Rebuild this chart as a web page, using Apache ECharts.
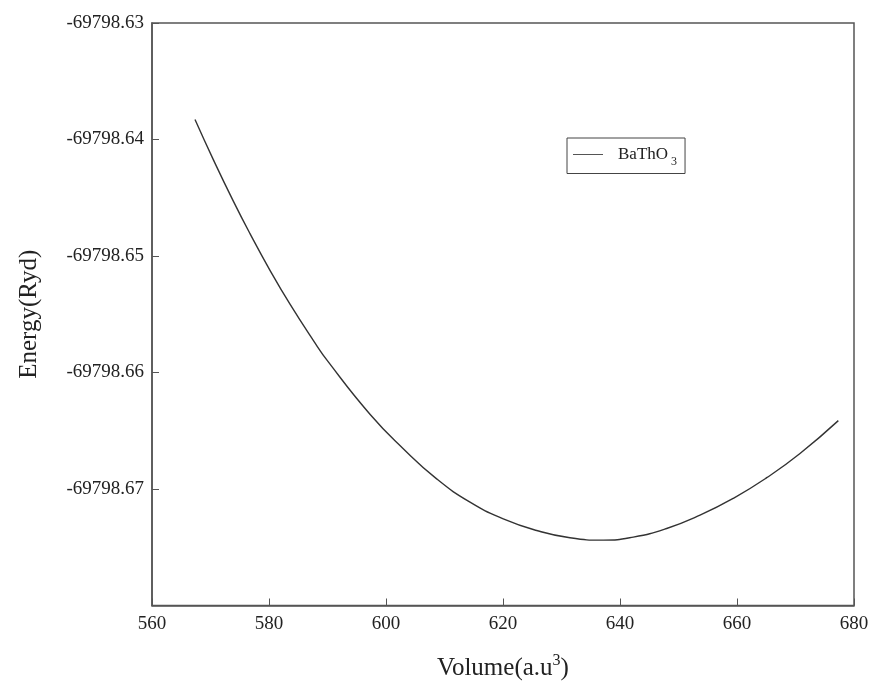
<!DOCTYPE html>
<html>
<head>
<meta charset="utf-8">
<script src="https://cdn.jsdelivr.net/npm/echarts@6/dist/echarts.min.js"></script>
<style>
  html,body{margin:0;padding:0;background:#fff;}
  #chart{width:875px;height:686px;}
</style>
</head>
<body>
<div id="chart"></div>
<script>
// 体积 (a.u^3) 和 能量 (Ryd)，从图上读出来的
var volume = [567.35, 570.48, 573.90, 576.75, 580.17, 583.59, 587.57, 590.14, 597.26, 602.95,
    608.66, 614.36, 620.05, 625.76, 631.45, 637.14, 642.27, 647.98, 653.68, 659.38,
    665.08, 670.77, 677.32];
var energy = [-69798.63829, -69798.64173, -69798.64529, -69798.64808, -69798.65123, -69798.65414,
    -69798.65724, -69798.65909, -69798.66358, -69798.66654, -69798.66913, -69798.67113,
    -69798.67256, -69798.67356, -69798.67419, -69798.67439, -69798.67413, -69798.67339,
    -69798.67225, -69798.67080, -69798.66903, -69798.66695, -69798.66413];
var xTicks = [560, 580, 600, 620, 640, 660, 680];
var yTicks = ['-69798.63', '-69798.64', '-69798.65', '-69798.66', '-69798.67'];

var seriesName = 'BaThO3';

var points = [];
for (var i = 0; i < volume.length; i++) {
    points.push([volume[i], energy[i]]);
}

var serif = '"Liberation Serif", "DejaVu Serif", serif';
var axisGray = '#555';

var myChart = echarts.init(document.getElementById('chart'));
var option = {
    backgroundColor: '#fff',
    animation: false,
    grid: {
        left: 152, right: 21, top: 23, bottom: 79,
        show: true,
        borderColor: axisGray,
        borderWidth: 1.5
    },
    legend: {
        data: [seriesName],
        left: 567, top: 138,
        orient: 'vertical',
        padding: [8, 8, 6, 6],
        borderColor: '#444',
        borderWidth: 1,
        borderRadius: 0,
        icon: 'rect',
        itemWidth: 30,
        itemHeight: 1,
        itemGap: 0,
        formatter: function () {
            return '{b|BaThO}{s|3}';
        },
        textStyle: {
            rich: {
                b: {fontFamily: serif, fontSize: 17, color: '#222', padding: [0, 0, 0, 10]},
                s: {fontFamily: serif, fontSize: 12, color: '#222', padding: [14, 0, 0, 3]}
            }
        }
    },
    xAxis: {
        type: 'value',
        min: 560, max: 680, interval: 20,
        name: '{n|Volume(a.u}{s|3}{n|)}',
        nameLocation: 'middle',
        nameGap: 47,
        nameTextStyle: {
            rich: {
                n: {fontFamily: serif, fontSize: 25, color: '#222'},
                s: {fontFamily: serif, fontSize: 16, color: '#222', padding: [0, 0, 16, 0]}
            }
        },
        axisLine: {show: true, lineStyle: {color: axisGray, width: 1.5}},
        axisTick: {show: true, inside: true, length: 7, lineStyle: {color: axisGray, width: 1}},
        splitLine: {show: false},
        axisLabel: {
            fontFamily: serif, fontSize: 19, color: '#222', margin: 9,
            formatter: function (v) {
                return xTicks.indexOf(v) >= 0 ? String(v) : '';
            }
        }
    },
    yAxis: {
        type: 'value',
        min: -69798.68, max: -69798.63, interval: 0.01,
        name: 'Energy(Ryd)',
        nameLocation: 'middle',
        nameGap: 110,
        nameRotate: 90,
        nameTextStyle: {fontFamily: serif, fontSize: 25, color: '#222'},
        axisLine: {show: true, lineStyle: {color: axisGray, width: 1.5}},
        axisTick: {show: true, inside: true, length: 7, lineStyle: {color: axisGray, width: 1}},
        splitLine: {show: false},
        axisLabel: {
            fontFamily: serif, fontSize: 19, color: '#222', margin: 8,
            formatter: function (v) {
                var t = v.toFixed(2);
                return yTicks.indexOf(t) >= 0 ? t : '';
            }
        }
    },
    series: [{
        name: seriesName,
        type: 'line',
        data: points,
        smooth: 0.5,
        symbol: 'none',
        lineStyle: {color: '#333', width: 1.4},
        itemStyle: {color: '#555'}
    }]
};
myChart.setOption(option);
</script>
</body>
</html>
